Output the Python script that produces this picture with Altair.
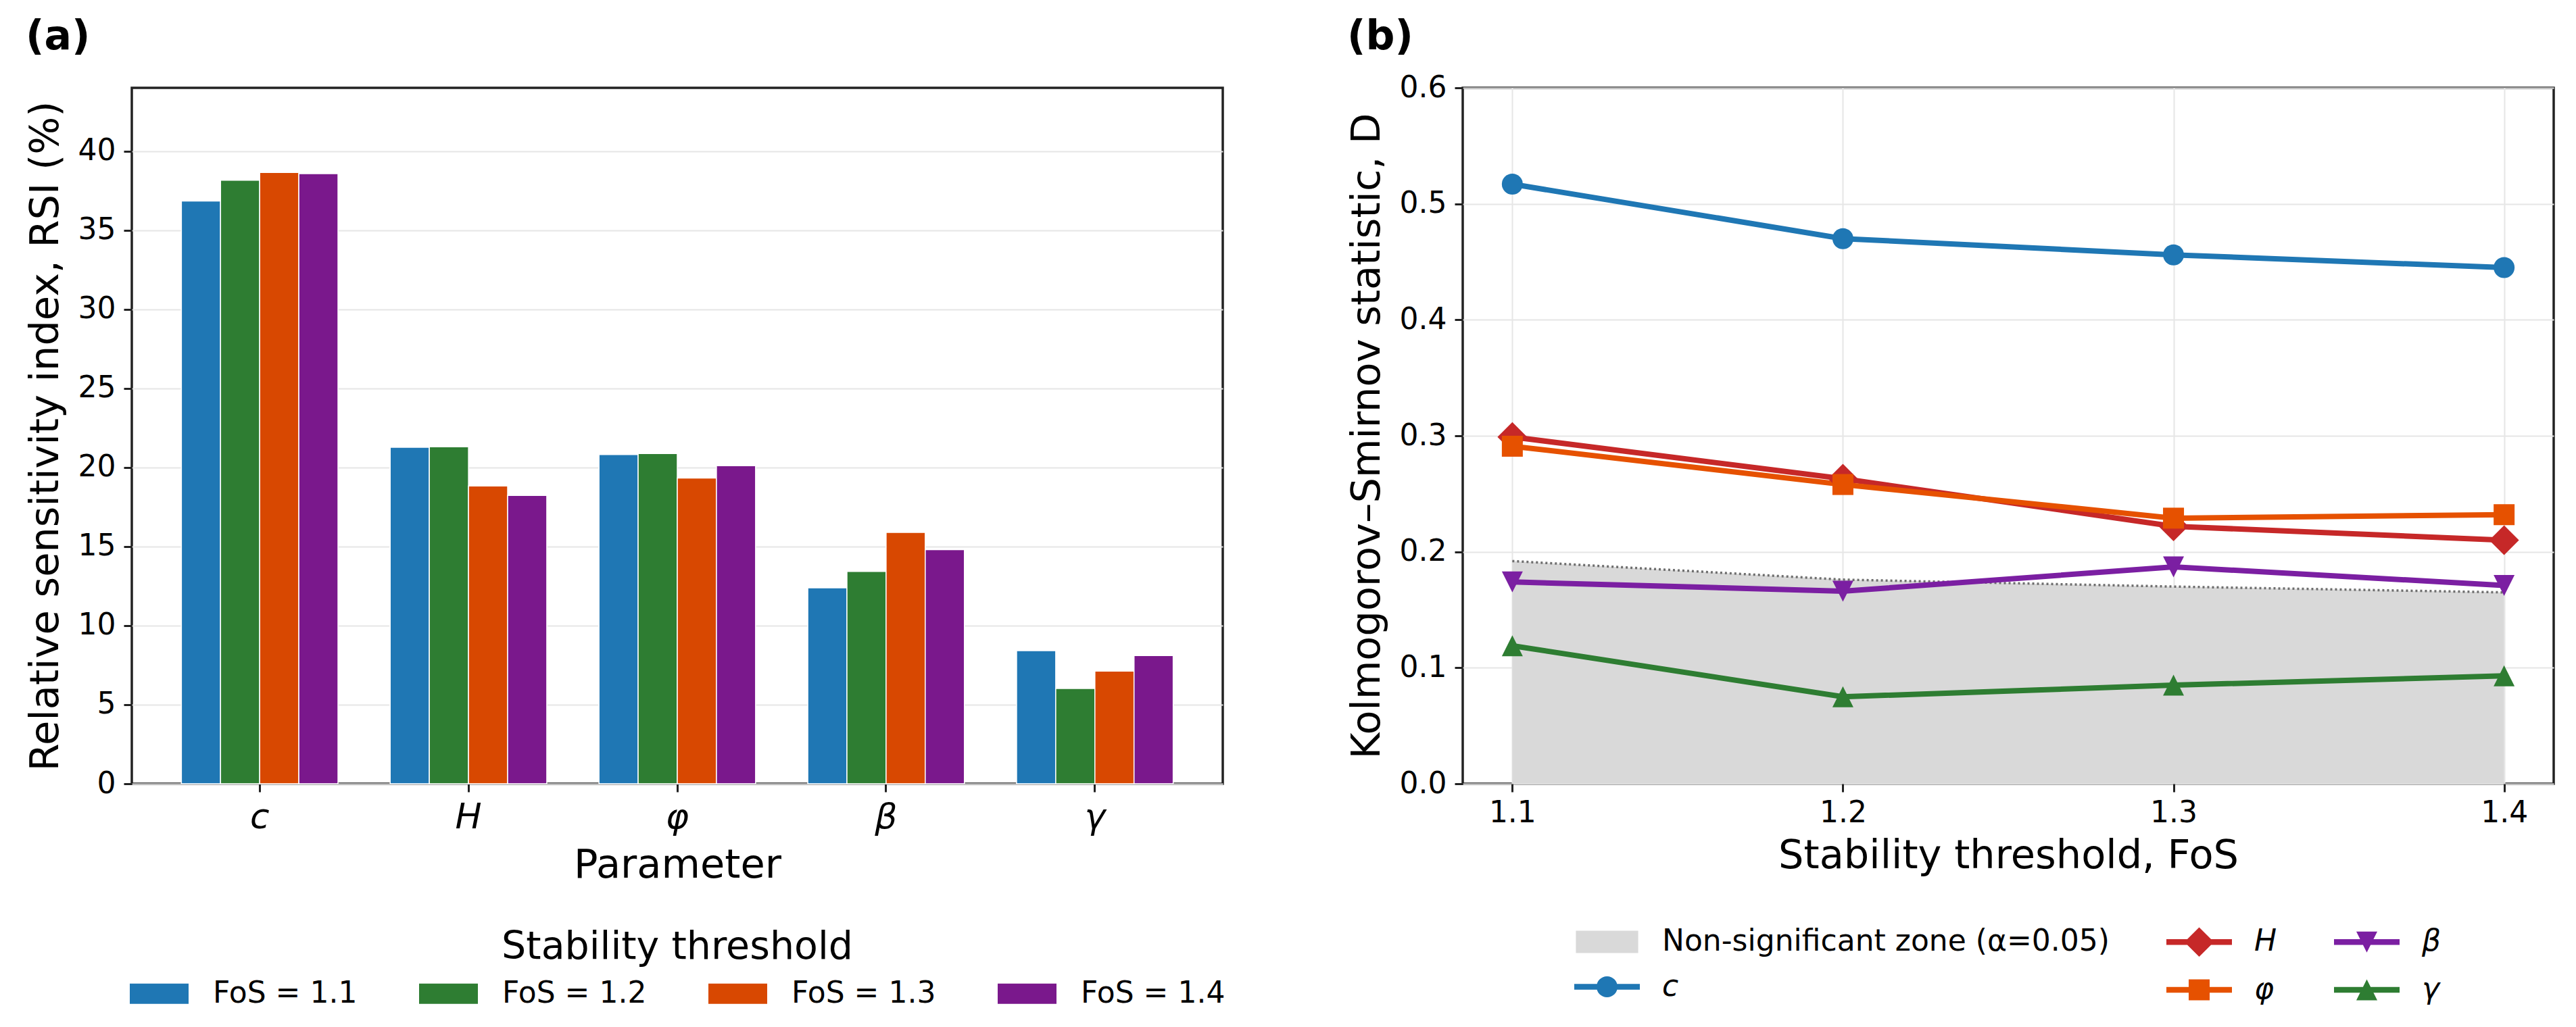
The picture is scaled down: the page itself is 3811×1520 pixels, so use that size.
import altair as alt
import pandas as pd

# panel (a): relative sensitivity index per parameter and stability threshold
PARAMS = ["c", "H", "φ", "β", "γ"]
FOS_LABELS = ["FoS = 1.1", "FoS = 1.2", "FoS = 1.3", "FoS = 1.4"]
RSI_FOS_11 = [36.85, 21.27, 20.81, 12.39, 8.42]
RSI_FOS_12 = [38.16, 21.31, 20.88, 13.42, 6.02]
RSI_FOS_13 = [38.65, 18.83, 19.33, 15.89, 7.12]
RSI_FOS_14 = [38.58, 18.23, 20.11, 14.80, 8.11]
BAR_COLORS = ["#1f77b4", "#2e7d32", "#d84801", "#7a188c"]

# panel (b): Kolmogorov-Smirnov statistic vs FoS
FOS = [1.1, 1.2, 1.3, 1.4]
KS_C = [0.517, 0.470, 0.456, 0.445]
KS_H = [0.299, 0.263, 0.222, 0.210]
KS_PHI = [0.291, 0.258, 0.229, 0.232]
KS_BETA = [0.174, 0.166, 0.187, 0.171]
KS_GAMMA = [0.119, 0.075, 0.085, 0.093]
D_CRIT = [0.192, 0.176, 0.170, 0.165]

ZONE = "Non-significant zone (α=0.05)"
SERIES = ["c", "H", "φ", "β", "γ"]
SERIES_COLORS = ["#1f77b4", "#c62828", "#e65100", "#7b1fa2", "#2e7d32"]
ZONE_COLOR = "#d9d9d9"

FONT = "DejaVu Sans"

# marker paths in the plot (scaled by sqrt(size)/2)
PLOT_SHAPES = [
    "circle",
    "M0,-1.42L1.42,0L0,1.42L-1.42,0Z",
    "square",
    "M0,1L-1,-1L1,-1Z",
    "M0,-1L1,1L-1,1Z",
]

# legend handles: a short line with the marker on it
LINE_BAR = "M-1,-0.09H1V0.09H-1Z"
LEGEND_MARKERS = [
    "M0.32,0A0.32,0.32 0 1,1 -0.32,0A0.32,0.32 0 1,1 0.32,0Z",
    "M0,-0.45L0.45,0L0,0.45L-0.45,0Z",
    "M-0.32,-0.32H0.32V0.32H-0.32Z",
    "M0,0.32L-0.32,-0.32L0.32,-0.32Z",
    "M0,-0.32L0.32,0.32L-0.32,0.32Z",
]
ZONE_PATCH = "M-0.95,-0.34H0.95V0.34H-0.95Z"
BAR_PATCH = "M-1,-0.345H1V0.345H-1Z"

PLOT_W = 1614
PLOT_H = 1030


def panel_title(text: str, offset: int) -> alt.Title:
    return alt.Title(text, anchor="start", frame="bounds", fontSize=60,
                     fontWeight="bold", color="black", offset=offset)


def make_bar_chart() -> alt.Chart:
    rows = []
    for fos, values in zip(FOS_LABELS, [RSI_FOS_11, RSI_FOS_12, RSI_FOS_13, RSI_FOS_14]):
        for param, v in zip(PARAMS, values):
            rows.append({"param": param, "fos": fos, "rsi": v})
    df = pd.DataFrame(rows)

    return (
        alt.Chart(df)
        .mark_bar(stroke="white", strokeWidth=1.5, opacity=1)
        .encode(
            x=alt.X(
                "param:N",
                sort=PARAMS,
                scale=alt.Scale(paddingInner=0.25, paddingOuter=0.2375),
                axis=alt.Axis(
                    title="Parameter",
                    labelAngle=0,
                    labelFontSize=52,
                    labelFontStyle="italic",
                    grid=False,
                    labelPadding=12,
                    titlePadding=16,
                ),
            ),
            xOffset=alt.XOffset("fos:N", sort=FOS_LABELS),
            y=alt.Y(
                "rsi:Q",
                scale=alt.Scale(domain=[0, 44], nice=False),
                axis=alt.Axis(
                    title="Relative sensitivity index, RSI (%)",
                    values=list(range(0, 45, 5)),
                    grid=True,
                ),
            ),
            color=alt.Color(
                "fos:N",
                sort=FOS_LABELS,
                scale=alt.Scale(domain=FOS_LABELS, range=BAR_COLORS),
                legend=alt.Legend(
                    title="Stability threshold",
                    orient="none",
                    legendX=-3,
                    legendY=1244,
                    direction="horizontal",
                    columns=4,
                    titleAnchor="middle",
                    titleFontSize=57,
                    titleFontWeight="normal",
                    titleColor="black",
                    titleLimit=2000,
                    titlePadding=-4,
                    labelFontSize=44,
                    labelColor="black",
                    labelLimit=2000,
                    labelOffset=36,
                    columnPadding=91,
                    symbolType=BAR_PATCH,
                    symbolSize=7569,
                    symbolStrokeWidth=0,
                    symbolOpacity=1,
                ),
            ),
        )
        .properties(width=PLOT_W, height=PLOT_H, title=panel_title("(a)", 44))
    )


def series_legend(x, y, columns=1, italic=True, symbol_type=None) -> alt.Legend:
    opts = dict(
        title=None,
        orient="none",
        legendX=x,
        legendY=y,
        columns=columns,
        symbolSize=9409,
        symbolStrokeWidth=0,
        symbolOpacity=1,
        labelFontSize=44,
        labelColor="black",
        labelLimit=2000,
        labelOffset=33,
        columnPadding=84,
        rowPadding=-4.5,
        labelFontStyle="italic" if italic else "normal",
    )
    if symbol_type:
        opts["symbolType"] = symbol_type
    return alt.Legend(**opts)


def make_ks_chart() -> alt.LayerChart:
    rows = []
    for name, values in zip(SERIES, [KS_C, KS_H, KS_PHI, KS_BETA, KS_GAMMA]):
        for f, v in zip(FOS, values):
            rows.append({"series": name, "fos": f, "d": v})
    df = pd.DataFrame(rows)
    zone_df = pd.DataFrame({"series": ZONE, "fos": FOS, "d": D_CRIT})

    color_of = dict(zip(SERIES, SERIES_COLORS))
    handle_of = {name: f"{LINE_BAR} {m}" for name, m in zip(SERIES, LEGEND_MARKERS)}

    x = alt.X(
        "fos:Q",
        scale=alt.Scale(domain=[1.085, 1.415], nice=False, zero=False),
        axis=alt.Axis(title="Stability threshold, FoS", values=FOS, format=".1f",
                      grid=True, labelPadding=9, titlePadding=12),
    )
    y = alt.Y(
        "d:Q",
        scale=alt.Scale(domain=[0, 0.6], nice=False),
        axis=alt.Axis(title="Kolmogorov–Smirnov statistic, D", values=[0, 0.1, 0.2, 0.3, 0.4, 0.5, 0.6],
                      format=".1f", grid=True),
    )
    series_scale = alt.Scale(domain=SERIES, range=SERIES_COLORS)

    zone = alt.Chart(zone_df).mark_area(opacity=1).encode(
        x=x,
        y=y,
        color=alt.Color(
            "series:N",
            scale=alt.Scale(domain=[ZONE], range=[ZONE_COLOR]),
            legend=series_legend(165, 1215.5, italic=False, symbol_type=ZONE_PATCH),
        ),
    )
    zone_edge = alt.Chart(zone_df).mark_line(color="#6e6e6e", strokeWidth=3.5, strokeDash=[3, 4]).encode(
        x=x, y=y
    )
    lines = alt.Chart(df).mark_line(strokeWidth=8).encode(
        x=x, y=y, color=alt.Color("series:N", scale=series_scale, legend=None)
    )
    points = alt.Chart(df).mark_point(filled=True, opacity=1, size=961).encode(
        x=x,
        y=y,
        color=alt.Color("series:N", scale=series_scale, legend=None),
        shape=alt.Shape("series:N", scale=alt.Scale(domain=SERIES, range=PLOT_SHAPES), legend=None),
    )

    # legend-only layers (no marks drawn): line + marker handles
    def legend_layer(names, legend):
        return (
            alt.Chart(df)
            .transform_filter("false")
            .mark_point(filled=True, opacity=1)
            .encode(
                x=x,
                y=y,
                color=alt.Color("series:N", scale=alt.Scale(domain=names, range=[color_of[n] for n in names]),
                                legend=legend),
                shape=alt.Shape("series:N", scale=alt.Scale(domain=names, range=[handle_of[n] for n in names]),
                                legend=legend),
            )
        )

    c_legend = series_legend(165, 1282)
    rest_legend = series_legend(1041, 1215.5, columns=2)
    legend_c = legend_layer(["c"], c_legend)
    # entries fill the columns top to bottom
    legend_rest = legend_layer(["H", "φ", "β", "γ"], rest_legend)

    return (
        alt.layer(zone, zone_edge, lines, points, legend_c, legend_rest)
        .resolve_scale(color="independent", shape="independent")
        .properties(width=PLOT_W, height=PLOT_H, title=panel_title("(b)", 22))
    )


def main() -> None:
    chart = (
        alt.hconcat(make_bar_chart(), make_ks_chart(), spacing=176)
        .resolve_scale(color="independent", shape="independent", x="independent", y="independent")
        .properties(padding={"left": 28, "top": 15, "right": 10, "bottom": 0})
        .configure(font=FONT)
        .configure_view(stroke="#222222", strokeWidth=3.5)
        .configure_axis(
            labelFont=FONT,
            titleFont=FONT,
            labelFontSize=44,
            titleFontSize=59,
            titleFontWeight="normal",
            labelColor="black",
            titleColor="black",
            tickColor="#222222",
            tickWidth=3,
            tickSize=12,
            labelPadding=12,
            titlePadding=18,
            domain=False,
            gridColor="#e6e6e6",
            gridWidth=2,
        )
        .configure_legend(labelFont=FONT, titleFont=FONT)
        .configure_title(font=FONT)
    )
    chart.save("out.html", embed_options={"renderer": "svg", "actions": False})


if __name__ == "__main__":
    main()
